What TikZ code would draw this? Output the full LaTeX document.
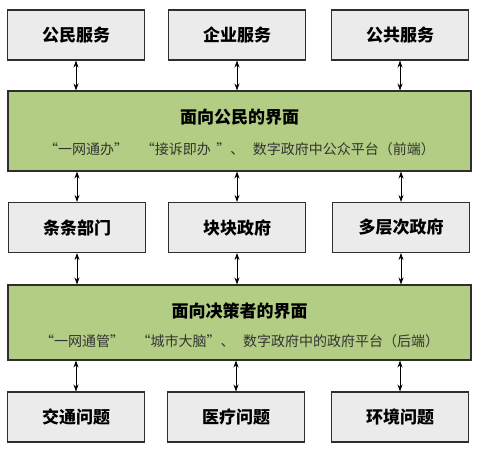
\documentclass[tikz,border=0pt]{standalone}
\usepackage{fontspec}
\setmainfont{Noto Sans CJK SC}
\usetikzlibrary{arrows.meta}
\definecolor{boxgray}{HTML}{EBEBEB}
\definecolor{panelgreen}{HTML}{B3CE84}
\definecolor{edgegray}{HTML}{2E2E2E}
\begin{document}
\begin{tikzpicture}[x=1pt,y=-1pt,
  unit/.style={draw=edgegray,line width=1.1pt,fill=boxgray,minimum width=137pt,minimum height=50pt,font=\fontsize{17}{20}\selectfont\bfseries},
  panel/.style={draw=edgegray,line width=1.1pt,fill=panelgreen,minimum width=463pt},
  ptitle/.style={font=\fontsize{17}{20}\selectfont\bfseries},
  psub/.style={font=\fontsize{14}{17}\selectfont,text=black!80},
  link/.style={{Stealth[length=7pt,width=5pt]}-{Stealth[length=7pt,width=5pt]},line width=0.8pt}]
  \useasboundingbox (0,0) rectangle (481,453);
  % top row: services
  \node[unit] (cit) at (76,35) {公民服务};
  \node[unit] (ent) at (237,35) {企业服务};
  \node[unit] (pub) at (400,35) {公共服务};
  % citizen-facing panel
  \node[panel,minimum height=80pt] (front) at (239.5,131) {};
  \node[ptitle] (fronttitle) at (239.5,117) {面向公民的界面};
  \node[psub] (frontsub) at (239.5,149) {“一网通办”\hspace{0.9em}“接诉即办\hspace{0.4em}”、\hspace{0.6em}数字政府中公众平台（前端）};
  % middle row: government
  \node[unit] (tiao) at (77,227.5) {条条部门};
  \node[unit] (kuai) at (237,227.5) {块块政府};
  \node[unit] (multi) at (401,227.5) {多层次政府};
  % decision-maker panel
  \node[panel,minimum height=75pt] (back) at (239.5,322.5) {};
  \node[ptitle] (backtitle) at (239.5,311) {面向决策者的界面};
  \node[psub] (backsub) at (239.5,341) {“一网通管”\hspace{0.9em}“城市大脑”、\hspace{0.6em}数字政府中的政府平台（后端）};
  % bottom row: issues
  \node[unit] (traf) at (76,417) {交通问题};
  \node[unit] (med) at (236,417) {医疗问题};
  \node[unit] (env) at (400,417) {环境问题};
  % links
  \foreach \n in {cit,ent,pub}
    \draw[link] (\n.south) -- (\n.south |- front.north);
  \foreach \n in {tiao,kuai,multi}
    \draw[link] (\n.north |- front.south) -- (\n.north);
  \foreach \n in {tiao,kuai,multi}
    \draw[link] (\n.south) -- (\n.south |- back.north);
  \foreach \n in {traf,med,env}
    \draw[link] (\n.north |- back.south) -- (\n.north);
\end{tikzpicture}
\end{document}
